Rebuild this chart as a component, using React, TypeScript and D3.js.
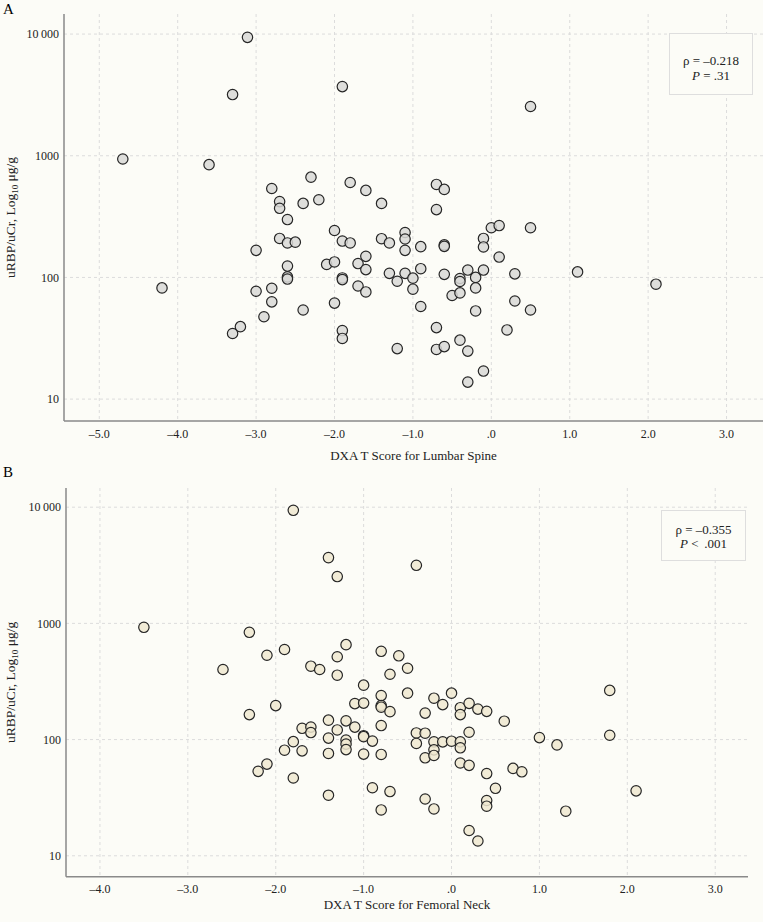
import React from 'react';
import * as d3 from 'd3';

// ---------- Data ----------
const lumbarT = [
  -4.7, -3.6, -3.11, -3.3, -4.2, -3.3, -3.2, -3.0, -3.0, -2.9,
  -2.8, -2.8, -2.8, -2.7, -2.7, -2.7, -2.6, -2.6, -2.6, -2.6,
  -2.6, -2.5, -2.4, -2.4, -2.3, -2.2, -2.1, -2.0, -2.0, -2.0,
  -1.9, -1.9, -1.9, -1.9, -1.9, -1.9, -1.8, -1.8, -1.7, -1.7,
  -1.6, -1.6, -1.6, -1.6, -1.4, -1.4, -1.3, -1.3, -1.2, -1.2,
  -1.1, -1.1, -1.1, -1.1, -1.0, -1.0, -0.9, -0.9, -0.9, -0.7,
  -0.7, -0.7, -0.7, -0.6, -0.6, -0.6, -0.6, -0.6, -0.5, -0.4,
  -0.4, -0.4, -0.4, -0.3, -0.3, -0.3, -0.2, -0.2, -0.2, -0.1,
  -0.1, -0.1, -0.1, 0.0, 0.1, 0.1, 0.2, 0.3, 0.3, 0.5,
  0.5, 0.5, 1.1, 2.1,
];
const lumbarRatio = [
  940, 845, 9400, 3185, 82, 34.6, 39.4, 167, 77, 47.5,
  538, 81.5, 63, 420, 370, 209, 299, 192, 124, 101,
  97, 195, 406, 54, 667, 435, 128, 243, 134, 61.5,
  199, 99, 96, 36.6, 31.5, 3700, 192, 603, 130, 85,
  519, 149, 116, 76, 406, 208, 192, 108, 93, 26,
  234, 207, 167, 108, 98.6, 80, 179, 118, 57.7, 581,
  361, 38.7, 25.6, 529, 185, 180, 106, 27, 71, 98,
  92.6, 74.6, 30.5, 115, 24.8, 13.8, 100, 82, 53, 209,
  178, 115, 17, 256, 267, 147, 37, 107, 64, 2540,
  256, 54, 111, 88,
];

const femoralT = [
  -3.5, -2.6, -2.3, -2.3, -2.2, -2.1, -2.1, -2.0, -1.9, -1.9,
  -1.8, -1.8, -1.8, -1.7, -1.7, -1.6, -1.6, -1.6, -1.5, -1.4,
  -1.4, -1.4, -1.4, -1.4, -1.3, -1.3, -1.3, -1.3, -1.2, -1.2,
  -1.2, -1.2, -1.2, -1.1, -1.1, -1.0, -1.0, -1.0, -1.0, -1.0,
  -0.9, -0.9, -0.8, -0.8, -0.8, -0.8, -0.8, -0.8, -0.8, -0.7,
  -0.7, -0.7, -0.6, -0.5, -0.5, -0.4, -0.4, -0.4, -0.3, -0.3,
  -0.3, -0.3, -0.2, -0.2, -0.2, -0.2, -0.2, -0.1, -0.1, 0.0,
  0.0, 0.1, 0.1, 0.1, 0.1, 0.1, 0.2, 0.2, 0.2, 0.2,
  0.3, 0.3, 0.4, 0.4, 0.4, 0.4, 0.5, 0.6, 0.7, 0.8,
  1.0, 1.2, 1.3, 1.8, 1.8, 2.1,
];
const femoralRatio = [
  925, 401, 838, 164, 53.3, 532, 61.5, 196, 596, 81,
  9400, 96, 46.7, 125, 80, 428, 128, 115, 401, 3680,
  147, 103, 76, 33.2, 2530, 516, 358, 121, 656, 145,
  99, 91.4, 82, 204, 128, 294, 206, 108, 106, 75,
  97, 38.5, 575, 239, 196, 190, 132, 74.5, 24.8, 365,
  174, 35.7, 526, 411, 251, 3160, 114, 92.6, 169, 113.5,
  69.7, 30.8, 227, 95.6, 81.6, 73, 25.3, 200, 95.6, 251,
  96.8, 188, 164, 95.6, 85, 62.9, 205, 115.6, 60, 16.5,
  183, 13.4, 175, 51, 29.9, 26.7, 38.1, 144, 56.5, 52.8,
  104, 90, 24.2, 265, 109, 36.2,
];

const lumbarXTicks = [-5, -4, -3, -2, -1, 0, 1, 2, 3];
const femoralXTicks = [-4, -3, -2, -1, 0, 1, 2, 3];
const yTicks = [10, 100, 1000, 10000];
const yTickLabels = ['10', '100', '1000', '10\u2009000'];

const BG = '#fcfcf7';
const FONT = "'Liberation Serif', 'DejaVu Serif', serif";

function fmtX(v: number) {
  if (v === 0) return '.0';
  const s = Math.abs(v).toFixed(1);
  return v < 0 ? '\u2013' + s : s;
}

type PanelProps = {
  letter: string;
  letterY: number;
  xs: number[];
  ys: number[];
  xTicks: number[];
  xDomain: [number, number];
  left: number;
  right: number;
  top: number;
  bottom: number;
  fill: string;
  xTitle: string;
  xTitleY: number;
  rho: string;
  pText: string;
  box: { x: number; y: number; w: number; h: number; l1: number; l2: number };
};

function Panel(p: PanelProps) {
  const x = d3.scaleLinear().domain(p.xDomain).range([p.left, p.right]);
  const y = d3.scaleLog().domain([Math.pow(10, 0.82), Math.pow(10, 4.165)]).range([p.bottom, p.top]);
  const cx = (p.left + p.right) / 2;
  const cy = (p.top + p.bottom) / 2;
  return (
    <g>
      <text x={3} y={p.letterY} fontSize={15}>{p.letter}</text>
      {/* grid */}
      {p.xTicks.map((t) => (
        <line key={'vx' + t} x1={x(t)} x2={x(t)} y1={p.top} y2={p.bottom}
          stroke="#dcdcdc" strokeWidth={1} strokeDasharray="3,3" />
      ))}
      {yTicks.map((t) => (
        <line key={'hy' + t} x1={p.left} x2={p.right} y1={y(t)} y2={y(t)}
          stroke="#dcdcdc" strokeWidth={1} strokeDasharray="3,3" />
      ))}
      {/* axes */}
      <line x1={p.left} x2={p.left} y1={p.top} y2={p.bottom} stroke="#8a8a8a" strokeWidth={1.5} />
      <line x1={p.left} x2={p.right} y1={p.bottom} y2={p.bottom} stroke="#8a8a8a" strokeWidth={1.5} />
      {/* y tick labels */}
      {yTicks.map((t, i) => (
        <text key={'yl' + t} x={p.left - 5} y={y(t)} dy="0.35em" textAnchor="end" fontSize={12} fill="#222">
          {yTickLabels[i]}
        </text>
      ))}
      {/* x tick labels */}
      {p.xTicks.map((t) => (
        <text key={'xl' + t} x={x(t)} y={p.bottom + 16.5} textAnchor="middle" fontSize={12} fill="#222">
          {fmtX(t)}
        </text>
      ))}
      {/* titles */}
      <text x={cx} y={p.xTitleY} textAnchor="middle" fontSize={13} fill="#222">{p.xTitle}</text>
      <text transform={`translate(15,${cy}) rotate(-90)`} textAnchor="middle" fontSize={13.5} fill="#222">
        uRBP/uCr, Log<tspan fontSize={9} dy={3}>10</tspan><tspan dy={-3}> μg/g</tspan>
      </text>
      {/* points */}
      {p.xs.map((v, i) => (
        <circle key={'pt' + i} cx={x(v)} cy={y(p.ys[i])} r={5.2}
          fill={p.fill} fillOpacity={0.85} stroke="#262626" strokeWidth={1.2} />
      ))}
      {/* stat box */}
      <rect x={p.box.x} y={p.box.y} width={p.box.w} height={p.box.h} fill={BG} stroke="#dedede" strokeWidth={1} />
      <text x={p.box.x + p.box.w / 2} y={p.box.l1} textAnchor="middle" fontSize={13} fill="#222">{p.rho}</text>
      <text x={p.box.x + p.box.w / 2} y={p.box.l2} textAnchor="middle" fontSize={13} fill="#222">
        <tspan fontStyle="italic">P</tspan>{p.pText}
      </text>
    </g>
  );
}

export default function App() {
  React.useEffect(() => {
    document.body.style.margin = '0';
    document.body.style.background = BG;
  }, []);
  return (
    <svg width={763} height={922} style={{ display: 'block', background: BG }} fontFamily={FONT}>
      <Panel
        letter="A" letterY={14}
        xs={lumbarT} ys={lumbarRatio} xTicks={lumbarXTicks} xDomain={[-5.45, 3.465]}
        left={64} right={763} top={14} bottom={421}
        fill="#d8d8d6" xTitle="DXA T Score for Lumbar Spine" xTitleY={460}
        rho={'ρ = \u20130.218'} pText=" = .31"
        box={{ x: 669.5, y: 33.5, w: 83, h: 61, l1: 65, l2: 80 }}
      />
      <Panel
        letter="B" letterY={477}
        xs={femoralT} ys={femoralRatio} xTicks={femoralXTicks} xDomain={[-4.386, 3.373]}
        left={66} right={748} top={488} bottom={876.7}
        fill="#efe7d0" xTitle="DXA T Score for Femoral Neck" xTitleY={909}
        rho={'ρ = \u20130.355'} pText={'  < \u2009.001'}
        box={{ x: 661.5, y: 510.5, w: 84, h: 50, l1: 534, l2: 548 }}
      />
    </svg>
  );
}
